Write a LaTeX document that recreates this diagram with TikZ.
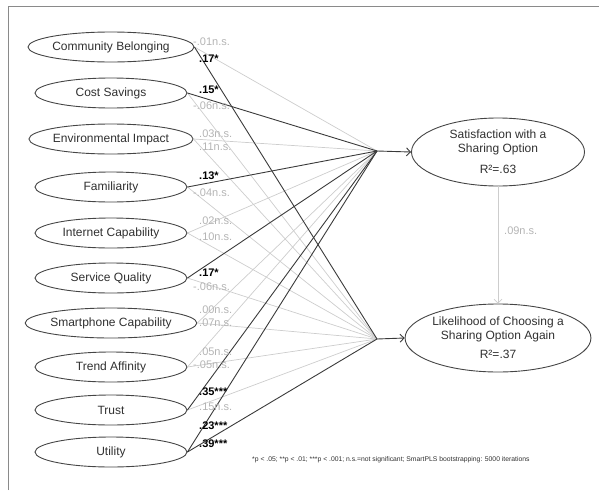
\documentclass[tikz,border=0pt]{standalone}
\usepackage{fontspec}
\setmainfont{Liberation Sans}
\usetikzlibrary{shapes.geometric,arrows.meta}
\definecolor{ellc}{HTML}{454545}
\definecolor{txtc}{HTML}{303030}
\definecolor{sigc}{HTML}{3A3A3A}
\definecolor{nsc}{HTML}{CDCDCD}
\definecolor{nstxt}{HTML}{B4B4B4}
\definecolor{framec}{HTML}{8A8A8A}
\begin{document}
\begin{tikzpicture}[x=1pt,y=-1pt,
  pred/.style={ellipse,draw=ellc,line width=0.9pt,minimum width=152pt,minimum height=30pt,inner sep=0pt,font=\fontsize{12}{14}\selectfont,text=txtc},
  outc/.style={ellipse,draw=ellc,line width=0.9pt,minimum width=173pt,minimum height=68pt,inner sep=0pt,align=center,font=\fontsize{12}{14}\selectfont,text=txtc},
  sig/.style={draw=sigc,line width=0.9pt},
  ns/.style={draw=nsc,line width=0.7pt},
  coef/.style={anchor=west,inner sep=0pt},
  coefns/.style={coef,text=nstxt,font=\fontsize{11}{13}\selectfont},
  coefsig/.style={coef,text=black,font=\fontsize{11}{13}\selectfont\bfseries},
  tip/.style={-{Straight Barb[length=4pt,width=8pt]}}
]
\useasboundingbox (0,0) rectangle (599,490);
\draw[framec,line width=1pt] (8,490) -- (8,6) -- (599,6);

% predictors
\node[pred] (cb) at (111,47)  {Community Belonging};
\node[pred] (cs) at (111,93)  {Cost Savings};
\node[pred] (ei) at (111,139) {Environmental Impact};
\node[pred] (fa) at (111,187) {Familiarity};
\node[pred] (ic) at (111,233) {Internet Capability};
\node[pred] (sq) at (111,278) {Service Quality};
\node[pred] (sc) at (111,323) {Smartphone Capability};
\node[pred] (ta) at (111,367) {Trend Affinity};
\node[pred] (tr) at (111,410) {Trust};
\node[pred] (ut) at (111,452) {Utility};

% outcomes
\node[outc] (sat) at (498,152) {Satisfaction with a\\Sharing Option\\[7pt]R²=.63};
\node[outc] (lik) at (498,338) {Likelihood of Choosing a\\Sharing Option Again\\[5pt]R²=.37};

\coordinate (hs) at (377,151);
\coordinate (hl) at (377,339);

% non-significant paths
\foreach \n in {cb,ei,ic,sc,ta} \draw[ns] (\n.east) -- (hs);
\foreach \n in {cs,ei,fa,ic,sq,sc,ta,tr} \draw[ns] (\n.east) -- (hl);

% significant paths
\foreach \n in {cs,fa,sq,tr,ut} \draw[sig] (\n.east) -- (hs);
\foreach \n in {cb,ut} \draw[sig] (\n.east) -- (hl);

\draw[sig,tip] (hs) -- (sat.west);
\draw[sig,tip] (hl) -- (lik.west);
\draw[ns,tip] (sat.south) -- (lik.north);
\node[coefns] (l09) at (504,231) {.09n.s.};

% coefficients
\node[coefns]  (c1a) at (193,42)  {-.01n.s.};
\node[coefsig] (c1b) at (199,59)  {.17*};
\node[coefsig] (c2a) at (199,90)  {.15*};
\node[coefns]  (c2b) at (193,106) {-.06n.s.};
\node[coefns]  (c3a) at (199,134) {.03n.s.};
\node[coefns]  (c3b) at (199,147) {.11n.s.};
\node[coefsig] (c4a) at (199,176) {.13*};
\node[coefns]  (c4b) at (193,193) {-.04n.s.};
\node[coefns]  (c5a) at (199,221) {.02n.s.};
\node[coefns]  (c5b) at (199,237) {.10n.s.};
\node[coefsig] (c6a) at (199,273) {.17*};
\node[coefns]  (c6b) at (193,287) {-.06n.s.};
\node[coefns]  (c7a) at (199,310) {.00n.s.};
\node[coefns]  (c7b) at (199,323) {.07n.s.};
\node[coefns]  (c8a) at (199,352) {.05n.s.};
\node[coefns]  (c8b) at (193,365) {-.05n.s.};
\node[coefsig] (c9a) at (199,392) {.35***};
\node[coefns]  (c9b) at (199,407) {.15n.s.};
\node[coefsig] (c10a) at (199,426) {.23***};
\node[coefsig] (c10b) at (199,444) {.39***};

% footnote
\node[anchor=west,inner sep=0pt,text=txtc,font=\fontsize{6.8}{8}\selectfont] (fn) at (252,460)
  {*p < .05; **p < .01; ***p < .001; n.s.=not significant; SmartPLS bootstrapping: 5000 iterations};
\end{tikzpicture}
\end{document}
